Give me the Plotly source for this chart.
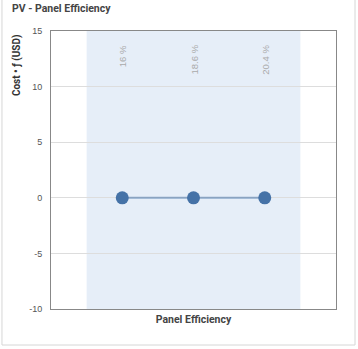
import plotly.graph_objects as go

categories = ["16 %", "18.6 %", "20.4 %"]
cost_values = [0, 0, 0]
y_ticks = [-10, -5, 0, 5, 10, 15]
y_tick_labels = ["-10", "-5", "0", "5", "10", "15"]

x_pos = list(range(len(categories)))

fig = go.Figure()
fig.add_trace(go.Scatter(
    x=x_pos, y=cost_values, mode="lines+markers",
    line=dict(color="rgba(69,114,167,0.55)", width=2),
    marker=dict(color="#4572a7", size=13),
    hoverinfo="skip", showlegend=False,
))

# shaded band behind categories
fig.add_shape(type="rect", xref="x", yref="paper", x0=-0.5, x1=len(categories) - 0.5,
              y0=0, y1=1, fillcolor="#e6eef8", line=dict(width=0), layer="below")

# card border
fig.add_shape(type="rect", xref="paper", yref="paper", x0=-0.172, x1=1.0667,
              y0=-0.1295, y1=1.2, line=dict(color="#d6d6d6", width=1), layer="below")

for i, c in enumerate(categories):
    fig.add_annotation(x=i, y=1, xref="x", yref="paper", text=c, textangle=-90,
                       showarrow=False, yanchor="top", yshift=-12,
                       font=dict(color="#aaaaaa", size=9.5, family="Liberation Sans, Roboto"))

fig.add_annotation(x=-0.145, y=1.08, xref="paper", yref="paper", xanchor="left", yanchor="middle",
                   text="<b>PV - Panel Efficiency</b>", showarrow=False,
                   font=dict(color="#444444", size=10.5, family="Liberation Sans Narrow, Roboto"))

# y-axis title placed at the top of the axis
fig.add_annotation(x=-0.119, y=1, xref="paper", yref="paper", xanchor="center", yanchor="top",
                   yshift=-1, text="<b>Cost • ƒ (USD)</b>", textangle=-90, showarrow=False,
                   font=dict(color="#333333", size=10, family="Liberation Sans Narrow, Roboto"))

fig.update_layout(
    width=358, height=349,
    margin=dict(l=51, r=22, t=31, b=40, autoexpand=False),
    paper_bgcolor="white", plot_bgcolor="white",
    font=dict(family="Liberation Sans Narrow, Roboto", color="#555555"),
    xaxis=dict(range=[-1, 3], showgrid=False, zeroline=False, showticklabels=False,
               showline=True, mirror=True, linecolor="#888888", linewidth=1, automargin=False,
               title=dict(text="<b>Panel Efficiency</b>", standoff=6,
                          font=dict(size=10.5, color="#444444"))),
    yaxis=dict(range=[-10, 15], tickvals=y_ticks, ticktext=y_tick_labels,
               showgrid=True, gridcolor="#dddddd",
               zeroline=True, zerolinecolor="#dddddd", zerolinewidth=1,
               showline=True, mirror=True, linecolor="#888888", linewidth=1, automargin=False,
               ticks="", ticklabelstandoff=6,
               tickfont=dict(size=9, color="#555555", family="Liberation Sans, Roboto")),
)

fig.write_html("out.html", config={"displayModeBar": False},
               post_script="document.body.style.margin='0';document.body.style.overflow='hidden';")
